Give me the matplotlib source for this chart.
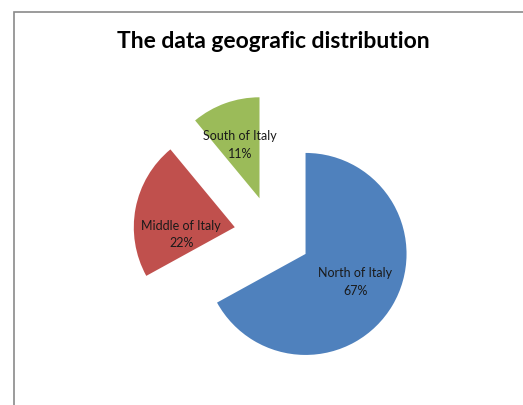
import matplotlib.pyplot as plt
from matplotlib.patches import Rectangle

regions = ["North of Italy", "Middle of Italy", "South of Italy"]
shares = [67, 22, 11]
colors = ["#4F81BD", "#C0504D", "#9BBB59"]

W, H = 523, 406
fig = plt.figure(figsize=(W / 100, H / 100), dpi=100)
ax = fig.add_axes([0, 0, 1, 1])

wedges, texts, autotexts = ax.pie(
    shares,
    colors=colors,
    startangle=90,
    counterclock=False,
    explode=[0.38] * 3,
    autopct=lambda p: "",
    pctdistance=0.57,
    wedgeprops=dict(linewidth=0),
)
for t, name, v in zip(autotexts, regions, shares):
    t.set_text(f"{name}\n{v}%")
    t.set_fontsize(9)
    t.set_family("Lato")
    t.set_color("#1a1a1a")
    t.set_linespacing(1.55)

# Excel puts the middle label a bit lower than the slice centre
x, y = autotexts[1].get_position()
autotexts[1].set_position((x + 0.03, y - 0.17))
x, y = autotexts[0].get_position()
autotexts[0].set_position((x, y + 0.02))

# pie centre at about (272, 235) px, radius about 101 px
r, cx, cy = 101, 272.5, 235.4
ax.set_xlim(-cx / r, (W - cx) / r)
ax.set_ylim(-(H - cy) / r, cy / r)
ax.set_aspect("auto")
ax.axis("off")

fig.text(0.522, 1 - 42 / H, "The data geografic distribution", ha="center", va="center",
         fontsize=16.5, fontweight="bold", family="Lato")

fig.add_artist(Rectangle((14 / W, -0.1), 1.0, (H - 13) / H + 0.1, transform=fig.transFigure,
                         fill=False, edgecolor="#8a8a8a", linewidth=1.2))

fig.savefig("out.png", dpi=100)
